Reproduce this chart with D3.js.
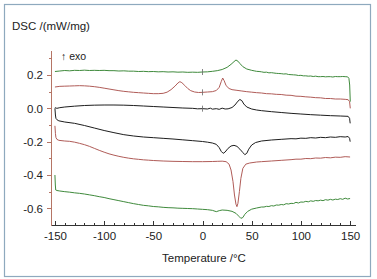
<!DOCTYPE html>
<html lang="en">
<head>
<meta charset="utf-8">
<title>dsc curves</title>
<script src="https://d3js.org/d3.v7.min.js"></script>
<style>
  body { margin: 0; background: #fff; }
  text { font-family: "Liberation Sans", Arial, sans-serif; fill: #222; }
  .x.Axis path, .x.Axis line { stroke: #333; shape-rendering: crispEdges; }
  .y.Axis path, .y.Axis line { stroke: #b57565; shape-rendering: crispEdges; }
</style>
</head>
<body>
<svg id="chart"></svg>
<script>
// ---------------- data (temperature °C, DSC mW/mg) ----------------
var xTicks = [-150, -100, -50, 0, 50, 100, 150]
var yTicks = [0.2, 0.0, -0.2, -0.4, -0.6]

var greenTop = [[-150,0.221],[-145,0.224],[-140,0.227],[-135,0.225],[-130,0.228],[-125,0.227],[-120,0.229],[-115,0.227],[-110,0.228],[-105,0.227],[-100,0.228],[-95,0.226],[-90,0.226],[-85,0.224],[-80,0.225],[-75,0.223],[-70,0.223],[-65,0.221],[-60,0.222],[-55,0.22],[-50,0.221],[-45,0.219],[-40,0.22],[-35,0.218],[-30,0.219],[-25,0.217],[-20,0.218],[-15,0.216],[-10,0.217],[-5,0.216],[0,0.218],[5,0.219],[10,0.222],[15,0.226],[20,0.233],[25,0.246],[29,0.264],[32,0.28],[34,0.29],[36,0.283],[38,0.269],[41,0.25],[45,0.236],[50,0.228],[52.5,0.225],[55,0.222],[57.5,0.221],[60,0.219],[62.5,0.216],[65,0.217],[67.5,0.213],[70,0.214],[72.5,0.212],[75,0.21],[77.5,0.209],[80,0.208],[82.5,0.206],[85,0.207],[87.5,0.203],[90,0.202],[92.5,0.201],[95,0.2],[97.5,0.197],[100,0.198],[102.5,0.195],[105,0.195],[107.5,0.193],[110,0.194],[112.5,0.191],[115,0.193],[117.5,0.19],[120,0.19],[122.5,0.191],[125,0.189],[127.5,0.19],[130,0.19],[132.5,0.188],[135,0.191],[137.5,0.19],[140,0.19],[142.5,0.191],[145,0.19],[147.5,0.189],[148.8,0.18],[149.6,0.14],[150.2,0.04]]

var redTop = [[-150,0.128],[-145,0.132],[-140,0.133],[-135,0.134],[-130,0.135],[-125,0.136],[-120,0.135],[-115,0.133],[-110,0.13],[-105,0.126],[-100,0.121],[-95,0.116],[-90,0.111],[-85,0.106],[-80,0.102],[-75,0.099],[-70,0.096],[-65,0.094],[-60,0.092],[-55,0.09],[-50,0.088],[-45,0.088],[-40,0.09],[-36,0.097],[-32,0.112],[-28,0.133],[-25,0.152],[-23,0.16],[-21,0.154],[-18,0.137],[-15,0.119],[-12,0.106],[-8,0.098],[-4,0.095],[0,0.096],[5,0.098],[10,0.1],[14,0.107],[17,0.126],[19,0.16],[20.5,0.182],[22,0.166],[24,0.136],[27,0.119],[30,0.112],[35,0.108],[40,0.104],[45,0.1],[50,0.097],[55,0.094],[60,0.092],[65,0.088],[70,0.087],[75,0.084],[80,0.083],[85,0.079],[90,0.078],[95,0.073],[100,0.072],[105,0.069],[110,0.067],[115,0.064],[120,0.063],[125,0.059],[130,0.059],[135,0.056],[140,0.056],[145,0.054],[148,0.052],[149.5,0.04],[150.2,0.0]]

var blackTop = [[-150,0.004],[-148,0.0],[-145,0.004],[-140,0.008],[-130,0.013],[-120,0.017],[-110,0.019],[-100,0.02],[-90,0.02],[-80,0.019],[-70,0.017],[-60,0.014],[-50,0.011],[-40,0.008],[-30,0.005],[-20,0.002],[-10,0.0],[-5,-0.003],[0,-0.002],[5,-0.004],[8,0.001],[10,-0.005],[14,-0.002],[17,-0.006],[20,0.001],[23,-0.004],[26,-0.003],[30,0.005],[33,0.02],[36,0.043],[38,0.053],[40,0.046],[42,0.026],[45,0.008],[50,-0.004],[55,-0.01],[60,-0.014],[70,-0.02],[80,-0.025],[90,-0.03],[100,-0.034],[110,-0.038],[120,-0.041],[130,-0.044],[140,-0.046],[148,-0.048],[149.5,-0.06],[150.1,-0.09]]

var blackLow = [[-150,0.0],[-149.5,-0.04],[-149,-0.06],[-148,-0.068],[-146,-0.075],[-140,-0.082],[-130,-0.09],[-120,-0.103],[-110,-0.118],[-100,-0.133],[-90,-0.146],[-80,-0.158],[-70,-0.166],[-60,-0.172],[-50,-0.176],[-40,-0.18],[-30,-0.184],[-20,-0.189],[-10,-0.194],[0,-0.199],[5,-0.203],[10,-0.208],[14,-0.216],[17,-0.236],[19,-0.258],[21,-0.27],[23,-0.262],[26,-0.24],[29,-0.226],[32,-0.222],[35,-0.228],[38,-0.245],[41,-0.265],[43,-0.278],[45,-0.27],[47,-0.245],[50,-0.22],[54,-0.205],[60,-0.196],[70,-0.19],[80,-0.186],[90,-0.182],[95,-0.183],[100,-0.179],[105,-0.18],[110,-0.176],[115,-0.178],[120,-0.174],[125,-0.176],[130,-0.172],[135,-0.174],[140,-0.17],[145,-0.172],[148,-0.169],[149.5,-0.18],[150.1,-0.2]]

var redLow = [[-150,-0.105],[-149.5,-0.15],[-149,-0.175],[-148,-0.186],[-146,-0.192],[-140,-0.196],[-135,-0.198],[-130,-0.203],[-125,-0.21],[-120,-0.218],[-115,-0.228],[-110,-0.24],[-105,-0.252],[-100,-0.263],[-95,-0.273],[-90,-0.281],[-85,-0.288],[-80,-0.294],[-75,-0.299],[-70,-0.303],[-65,-0.306],[-60,-0.309],[-55,-0.311],[-50,-0.313],[-40,-0.316],[-30,-0.318],[-20,-0.319],[-10,-0.32],[0,-0.32],[10,-0.319],[15,-0.318],[20,-0.317],[24,-0.32],[27,-0.335],[29,-0.37],[31,-0.44],[32.5,-0.52],[34,-0.575],[35,-0.59],[36,-0.57],[37.5,-0.5],[39,-0.42],[41,-0.36],[44,-0.335],[48,-0.328],[55,-0.322],[60,-0.32],[70,-0.316],[80,-0.312],[90,-0.308],[95,-0.305],[100,-0.305],[105,-0.301],[110,-0.302],[115,-0.298],[120,-0.299],[125,-0.295],[130,-0.297],[135,-0.293],[140,-0.294],[145,-0.29],[150,-0.292]]

var greenLow = [[-150,-0.4],[-149.6,-0.46],[-149.2,-0.49],[-148,-0.493],[-145,-0.496],[-140,-0.5],[-135,-0.503],[-130,-0.507],[-125,-0.51],[-120,-0.514],[-115,-0.519],[-110,-0.524],[-105,-0.53],[-100,-0.535],[-95,-0.542],[-90,-0.548],[-85,-0.554],[-80,-0.56],[-75,-0.566],[-70,-0.572],[-65,-0.577],[-60,-0.582],[-55,-0.585],[-50,-0.589],[-45,-0.591],[-40,-0.594],[-35,-0.596],[-30,-0.597],[-25,-0.599],[-20,-0.6],[-15,-0.601],[-10,-0.602],[-5,-0.604],[0,-0.606],[5,-0.608],[10,-0.612],[14,-0.62],[17,-0.614],[20,-0.61],[25,-0.612],[30,-0.618],[34,-0.63],[37,-0.648],[39,-0.66],[41,-0.655],[43,-0.636],[46,-0.618],[50,-0.605],[55,-0.598],[60,-0.592],[62.5,-0.592],[65,-0.588],[67.5,-0.589],[70,-0.584],[72.5,-0.586],[75,-0.58],[77.5,-0.581],[80,-0.577],[82.5,-0.579],[85,-0.572],[87.5,-0.574],[90,-0.57],[92.5,-0.571],[95,-0.564],[97.5,-0.568],[100,-0.562],[102.5,-0.563],[105,-0.558],[107.5,-0.561],[110,-0.555],[112.5,-0.558],[115,-0.553],[117.5,-0.555],[120,-0.551],[122.5,-0.554],[125,-0.548],[127.5,-0.551],[130,-0.546],[132.5,-0.55],[135,-0.545],[137.5,-0.547],[140,-0.542],[142.5,-0.546],[145,-0.539],[147.5,-0.544],[150,-0.541]]

var series = [
  {name: "green1", color: "#3f8a3c", values: greenTop, mark: true},
  {name: "red1", color: "#b05c58", values: redTop, mark: true},
  {name: "black1", color: "#1e1e1e", values: blackTop, mark: true},
  {name: "black2", color: "#1e1e1e", values: blackLow, mark: false},
  {name: "red2", color: "#b05c58", values: redLow, mark: false},
  {name: "green2", color: "#3f8a3c", values: greenLow, mark: false}
]

// ---------------- layout ----------------
var wholeW = 377, wholeH = 279

var svg = d3.select("#chart").attr("width", wholeW).attr("height", wholeH)

// outer frame
svg.append("rect")
  .attr("x", 4.5).attr("y", 4.5)
  .attr("width", 366).attr("height", 272)
  .attr("fill", "none").attr("stroke", "#8ea9be").attr("stroke-width", 1.2)

var xScale = d3.scaleLinear().domain([-154, 155]).range([51, 355])
var yScale = d3.scaleLinear().domain([-0.7, 0.35]).range([225, 50])

// minor ticks
var xMinor = d3.range(-150, 151, 10).filter(d => xTicks.indexOf(d) < 0)
svg.append("g").selectAll("line").data(xMinor).join("line")
  .attr("x1", d => Math.round(xScale(d)) + 0.5).attr("x2", d => Math.round(xScale(d)) + 0.5)
  .attr("y1", 225).attr("y2", 223)
  .attr("stroke", "#333")

var yMinor = [0.3, 0.1, -0.1, -0.3, -0.5]
svg.append("g").selectAll("line").data(yMinor).join("line")
  .attr("x1", 51).attr("x2", 49)
  .attr("y1", d => Math.round(yScale(d)) + 0.5).attr("y2", d => Math.round(yScale(d)) + 0.5)
  .attr("stroke", "#b57565")

// axes
var xAxis = d3.axisBottom(xScale).tickValues(xTicks).tickSizeInner(-4).tickSizeOuter(0).tickPadding(7)
var yAxis = d3.axisLeft(yScale).tickValues(yTicks).tickSizeInner(4).tickSizeOuter(0).tickPadding(4)

svg.append("g").attr("class", "x Axis")
  .attr("transform", "translate(0,225)")
  .call(xAxis)
  .selectAll("text").style("font-size", "11.5px").style("fill", "#222")
  .text(d => String(d))

svg.append("g").attr("class", "y Axis")
  .attr("transform", "translate(51,0)")
  .call(yAxis)
  .selectAll("text").style("font-size", "11.5px").style("fill", "#222")
  .text(d => d3.format(".1f")(d).replace("−", "-"))

// curves
var line = d3.line().x(d => xScale(d[0])).y(d => yScale(d[1]))

svg.append("g").selectAll("path").data(series).join("path")
  .attr("d", d => line(d.values))
  .attr("fill", "none")
  .attr("stroke", d => d.color)
  .attr("stroke-width", 1)

// small segment markers at 0 °C on upper curves
svg.append("g").selectAll("line").data(series.filter(s => s.mark)).join("line")
  .attr("x1", xScale(0)).attr("x2", xScale(0))
  .attr("y1", d => yScale(d3.least(d.values, v => Math.abs(v[0]))[1]) - 3)
  .attr("y2", d => yScale(d3.least(d.values, v => Math.abs(v[0]))[1]) + 3)
  .attr("stroke", "#666").attr("stroke-width", 0.8)

// labels
svg.append("text").attr("x", 12).attr("y", 30)
  .style("font-size", "11.5px").text("DSC /(mW/mg)")

svg.append("text").attr("x", 61).attr("y", 60)
  .style("font-size", "10.5px").text("↑ exo")

svg.append("text").attr("x", 204).attr("y", 262)
  .attr("text-anchor", "middle")
  .style("font-size", "11.5px").text("Temperature /°C")
</script>
</body>
</html>
